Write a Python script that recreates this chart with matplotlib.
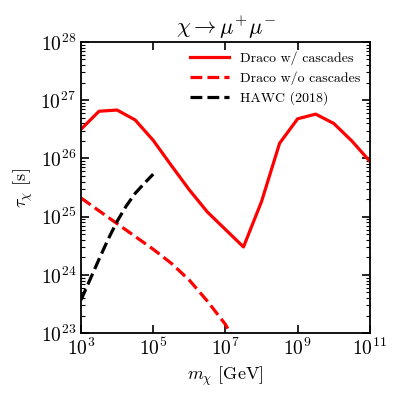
import matplotlib
matplotlib.use('Agg')
import matplotlib.pyplot as plt
import numpy as np
from matplotlib import rcParams
from matplotlib.ticker import FixedLocator, LogLocator, NullLocator

rcParams.update({
    'font.family': 'serif',
    'font.serif': ['cmr10'],
    'mathtext.fontset': 'cm',
    'axes.formatter.use_mathtext': True,
    'axes.unicode_minus': False,
})

# log10 of mass [GeV] and log10 of lifetime [s]
draco_cas_logm = [3.0, 3.5, 4.0, 4.5, 5.0, 5.5, 6.0, 6.5, 7.0, 7.5, 8.0, 8.5, 9.0, 9.5, 10.0, 10.5, 11.0]
draco_cas_logtau = [26.50, 26.81, 26.83, 26.66, 26.31, 25.88, 25.46, 25.08, 24.78, 24.48,
                    25.26, 26.26, 26.68, 26.76, 26.60, 26.30, 25.95]

draco_nocas_logm = [3.0, 3.5, 4.0, 4.5, 5.0, 5.5, 6.0, 6.5, 7.0, 7.5]
draco_nocas_logtau = [25.32, 25.10, 24.88, 24.66, 24.44, 24.20, 23.91, 23.55, 23.15, 22.60]

hawc_logm = [3.0, 3.25, 3.5, 3.75, 4.0, 4.25, 4.5, 4.75, 5.0]
hawc_logtau = [23.57, 23.92, 24.27, 24.61, 24.92, 25.18, 25.40, 25.57, 25.73]

x_ticks = [1e3, 1e5, 1e7, 1e9, 1e11]


def main():
    fig = plt.figure(figsize=(3.99, 3.99), dpi=100)
    ax = fig.add_axes([0.203, 0.165, 0.724, 0.730])

    ax.plot(10 ** np.array(draco_cas_logm), 10 ** np.array(draco_cas_logtau),
            color='red', lw=2.3, label='Draco w/ cascades')
    ax.plot(10 ** np.array(draco_nocas_logm), 10 ** np.array(draco_nocas_logtau),
            color='red', lw=2.3, ls='--', label='Draco w/o cascades')
    ax.plot(10 ** np.array(hawc_logm), 10 ** np.array(hawc_logtau),
            color='black', lw=2.3, ls='--', label='HAWC (2018)')

    ax.set_xscale('log')
    ax.set_yscale('log')
    ax.set_xlim(1e3, 1e11)
    ax.set_ylim(1e23, 1e28)

    ax.xaxis.set_major_locator(FixedLocator(x_ticks))
    ax.xaxis.set_minor_locator(NullLocator())
    ax.yaxis.set_major_locator(LogLocator(base=10.0, numticks=10))
    ax.yaxis.set_minor_locator(LogLocator(base=10.0, subs=np.arange(2, 10), numticks=20))

    ax.tick_params(which='both', direction='in', top=True, right=True, labelsize=14)
    ax.tick_params(which='major', length=6, width=1.2)
    ax.tick_params(which='minor', length=3, width=0.8)
    for s in ax.spines.values():
        s.set_linewidth(1.3)

    ax.set_title(r'$\chi \to \mu^{+}\mu^{-}$', fontsize=16)
    ax.set_xlabel(r'$m_\chi$ [GeV]', fontsize=13)
    ax.set_ylabel(r'$\tau_\chi$ [s]', fontsize=13)

    ax.legend(loc='upper right', frameon=False, fontsize=10, handlelength=2.8,
              borderaxespad=0.3, labelspacing=0.45)

    plt.savefig('out.png', dpi=100)


if __name__ == '__main__':
    main()
